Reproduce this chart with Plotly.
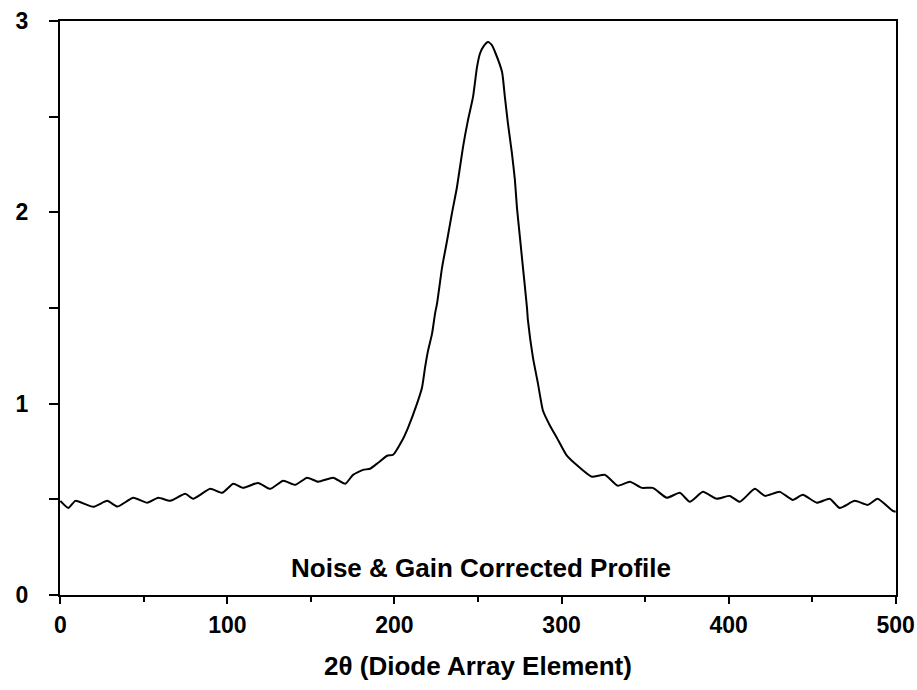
import plotly.graph_objects as go

# Data
element = [0, 4.8, 9.0, 19.7, 28.1, 34.1, 43.7, 52.0, 58.6, 65.8, 74.8, 79.5, 89.7, 96.9,
           103.5, 109.4, 118.4, 125.6, 133.4, 140.6, 147.7, 154.3, 163.3, 170.5, 175.2,
           181.2, 185.4, 190.2, 195.6, 199.2, 204.5, 208.1, 213.5, 216.5, 218.3, 220.1,
           222.5, 224.3, 225.5, 228.5, 231.5, 234.4, 237.4, 241.0, 244.0, 247.0, 249.4,
           251.2, 253.5, 256.0, 258.2, 260.2, 264.4, 266.1, 267.9, 270.3, 272.1, 273.3, 275.1,
           276.9, 279.3, 279.9, 282.9, 285.9, 288.9, 293.1, 297.2, 303.2, 311.0, 318.2,
           326.0, 333.7, 340.9, 348.1, 354.7, 363.0, 370.8, 376.8, 384.6, 392.9, 400.7,
           406.7, 415.7, 421.7, 430.6, 438.4, 444.4, 452.8, 460.5, 466.5, 475.5, 483.3,
           489.2, 498.2, 500]
intensity = [0.492, 0.455, 0.492, 0.461, 0.492, 0.462, 0.508, 0.482, 0.508, 0.492, 0.529,
             0.503, 0.555, 0.534, 0.581, 0.560, 0.586, 0.555, 0.597, 0.576, 0.613, 0.592,
             0.613, 0.581, 0.628, 0.654, 0.660, 0.691, 0.728, 0.733, 0.806, 0.874, 1.000,
             1.084, 1.188, 1.277, 1.366, 1.471, 1.524, 1.712, 1.853, 1.995, 2.131, 2.340,
             2.482, 2.602, 2.759, 2.830, 2.870, 2.890, 2.875, 2.838, 2.733, 2.602, 2.466,
             2.309, 2.168, 2.026, 1.869, 1.712, 1.503, 1.435, 1.241, 1.105, 0.963, 0.885,
             0.822, 0.728, 0.665, 0.618, 0.628, 0.571, 0.592, 0.560, 0.560, 0.508, 0.534,
             0.487, 0.539, 0.503, 0.518, 0.487, 0.555, 0.518, 0.539, 0.497, 0.524, 0.482,
             0.503, 0.455, 0.492, 0.471, 0.503, 0.440, 0.435]

x_ticks = [0, 100, 200, 300, 400, 500]
y_ticks = [0, 1, 2, 3]
annotation_text = "Noise & Gain Corrected Profile"
x_title = "2θ (Diode Array Element)"

FONT = "Liberation Sans"
TICKFONT = dict(family=FONT, size=23, color="black", weight="bold")
TEXTFONT = dict(family=FONT, size=26, color="black", weight="bold")

fig = go.Figure()
fig.add_trace(go.Scatter(x=element, y=intensity, mode="lines",
                         line=dict(color="black", width=2, shape="spline", smoothing=0.5),
                         showlegend=False, hoverinfo="skip", cliponaxis=False))

fig.add_annotation(x=252, y=0.14, xref="x", yref="y", text=annotation_text,
                   showarrow=False, font=TEXTFONT)

fig.update_layout(
    width=917, height=690,
    margin=dict(l=60, r=21, t=21, b=95, autoexpand=False),
    paper_bgcolor="white", plot_bgcolor="white",
    font=dict(family=FONT, color="black"),
    xaxis=dict(
        range=[-0.2, 500.2], tickvals=x_ticks, ticks="outside", ticklen=7, tickwidth=2,
        tickcolor="black", showline=True, linecolor="black", linewidth=2, mirror=True,
        showgrid=False, zeroline=False, tickfont=TICKFONT, ticklabeloverflow="allow",
        ticklabelstandoff=1, automargin=False,
        minor=dict(dtick=50, ticks="outside", ticklen=5, tickwidth=1.5, tickcolor="black"),
        title=dict(text=x_title, font=TEXTFONT, standoff=20),
    ),
    yaxis=dict(
        range=[0, 3], tickvals=y_ticks, ticks="outside", ticklen=9, tickwidth=2,
        tickcolor="black", showline=True, linecolor="black", linewidth=2, mirror=True,
        showgrid=False, zeroline=False, tickfont=TICKFONT, ticklabeloverflow="allow",
        ticklabelstandoff=16, automargin=False,
        minor=dict(dtick=0.5, ticks="outside", ticklen=9, tickwidth=1.5, tickcolor="black"),
    ),
)

fig.write_html("out.html")
